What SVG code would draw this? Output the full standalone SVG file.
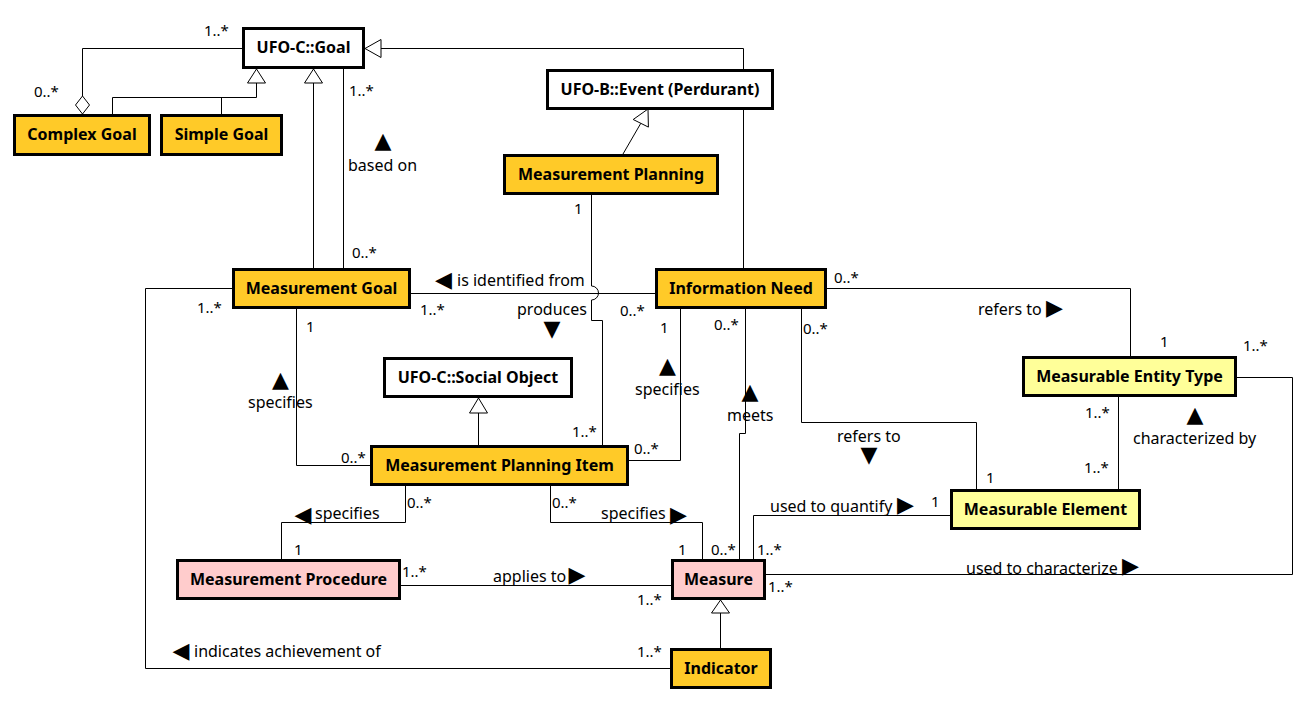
<svg xmlns="http://www.w3.org/2000/svg" width="1306" height="716" viewBox="0 0 1306 716">
<style>
.ln{fill:none;stroke:#000;stroke-width:1}
.hol{fill:#fff;stroke:#000;stroke-width:1}
.nd{stroke:#000;stroke-width:3}
.w{fill:#fff}
.g{fill:#FFCA28}
.p{fill:#FFCCCC}
.y{fill:#FFFF99}
.nt{font-family:"Noto Sans","Open Sans",sans-serif;font-weight:bold;font-size:16px;fill:#000;text-anchor:middle}
.lb{font-family:"Noto Sans","Open Sans",sans-serif;font-size:16px;fill:#000}
.m{font-family:"Noto Sans","Open Sans",sans-serif;font-size:15px;fill:#000}
.tr{font-family:"DejaVu Sans",sans-serif;font-size:22px;fill:#000;text-anchor:middle}
</style>
<rect width="1306" height="716" fill="#fff"/>
<g id="connectors">
<path class="ln" d="M242,48.5 H82.5 V96"/>
<polygon class="hol" points="82.5,96 89.5,105 82.5,114 75.5,105"/>
<path class="ln" d="M112.5,114 V97.5 H256.5 V83 M221.5,114 V97.5"/>
<polygon class="hol" points="256.5,69 265.5,83 247.5,83"/>
<path class="ln" d="M313.5,268 V83"/>
<polygon class="hol" points="313.5,69 322.5,83 304.5,83"/>
<path class="ln" d="M743.5,268 V48.5 H381"/>
<polygon class="hol" points="365,48.5 381,39.5 381,57.5"/>
<path class="ln" d="M343.5,69 V268"/>
<path class="ln" d="M623,154 L640.8,123.3"/>
<polygon class="hol" points="648,109 648.4,127.1 633.2,119.5"/>
<path class="ln" d="M591.5,195 V286 A7,7 0 0,1 591.5,300 V320.5 H602.5 V445"/>
<path class="ln" d="M411,293.5 H655"/>
<path class="ln" d="M296.5,309 V465.5 H370"/>
<path class="ln" d="M680.5,309 V460.5 H629"/>
<path class="ln" d="M478.5,445 V413"/>
<polygon class="hol" points="478.5,398 487.5,413 469.5,413"/>
<path class="ln" d="M745.5,309 V433.5 H739.5 V559"/>
<path class="ln" d="M827,288.5 H1130.5 V356"/>
<path class="ln" d="M801.5,309 V422.5 H976.5 V489"/>
<path class="ln" d="M1118.5,397 V489"/>
<path class="ln" d="M753.5,559 V515.5 H950"/>
<path class="ln" d="M766,574.5 H1292.5 V377.5 H1237"/>
<path class="ln" d="M405.5,486 V522.5 H281.5 V559"/>
<path class="ln" d="M550.5,486 V522.5 H702.5 V559"/>
<path class="ln" d="M401,585.5 H671"/>
<path class="ln" d="M720.5,648 V613"/>
<polygon class="hol" points="720.5,600 729.5,613 711.5,613"/>
<path class="ln" d="M670,668.5 H145.5 V288.5 H232"/>

<text class="m" x="204" y="36">1..*</text>
<text class="m" x="34" y="97">0..*</text>
<text class="m" x="349" y="96">1..*</text>
<text class="tr" x="383" y="148">▲</text>
<text class="lb" x="348" y="171">based on</text>
<text class="m" x="352" y="258">0..*</text>
<text class="m" x="574" y="214">1</text>
<text class="tr" x="443.5" y="287">◀</text>
<text class="lb" x="457" y="286">is identified from</text>
<text class="m" x="197" y="313">1..*</text>
<text class="m" x="420" y="315">1..*</text>
<text class="lb" x="517" y="315">produces</text>
<text class="tr" x="552" y="336">▼</text>
<text class="m" x="620" y="316">0..*</text>
<text class="m" x="306" y="332">1</text>
<text class="m" x="660" y="333">1</text>
<text class="tr" x="280.5" y="387">▲</text>
<text class="lb" x="248" y="408">specifies</text>
<text class="tr" x="667.5" y="373">▲</text>
<text class="lb" x="635" y="395">specifies</text>
<text class="m" x="572" y="437">1..*</text>
<text class="m" x="341" y="463">0..*</text>
<text class="m" x="634" y="454">0..*</text>
<text class="m" x="834" y="283">0..*</text>
<text class="m" x="714" y="330">0..*</text>
<text class="m" x="803" y="334">0..*</text>
<text class="lb" x="978" y="315">refers to</text>
<text class="tr" x="1054.5" y="315">▶</text>
<text class="m" x="1160" y="347">1</text>
<text class="m" x="1243" y="351">1..*</text>
<text class="tr" x="750" y="399">▲</text>
<text class="lb" x="727" y="421">meets</text>
<text class="m" x="1085" y="418">1..*</text>
<text class="tr" x="1195" y="422">▲</text>
<text class="lb" x="1133" y="444">characterized by</text>
<text class="lb" x="837" y="442">refers to</text>
<text class="tr" x="869" y="462">▼</text>
<text class="m" x="986" y="483">1</text>
<text class="m" x="1084" y="473">1..*</text>
<text class="lb" x="770" y="512">used to quantify</text>
<text class="tr" x="905.5" y="512">▶</text>
<text class="m" x="931" y="507">1</text>
<text class="m" x="407" y="508">0..*</text>
<text class="tr" x="303" y="522">◀</text>
<text class="lb" x="315" y="519">specifies</text>
<text class="m" x="552" y="508">0..*</text>
<text class="lb" x="601" y="519">specifies</text>
<text class="tr" x="678.5" y="522">▶</text>
<text class="m" x="294" y="555">1</text>
<text class="m" x="678" y="555">1</text>
<text class="m" x="711" y="555">0..*</text>
<text class="m" x="757" y="555">1..*</text>
<text class="m" x="402" y="577">1..*</text>
<text class="lb" x="493" y="582">applies to</text>
<text class="tr" x="577" y="582">▶</text>
<text class="m" x="637" y="605">1..*</text>
<text class="m" x="768" y="592">1..*</text>
<text class="lb" x="966" y="574">used to characterize</text>
<text class="tr" x="1130.5" y="573">▶</text>
<text class="tr" x="181" y="658">◀</text>
<text class="lb" x="194" y="657">indicates achievement of</text>
<text class="m" x="637" y="657">1..*</text>
</g>

<g id="node-goal"><rect class="nd w" x="243.5" y="28.5" width="120" height="39"/><text class="nt" x="303.5" y="53">UFO-C::Goal</text></g>
<g id="node-complex-goal"><rect class="nd g" x="14.5" y="115.5" width="135" height="39"/><text class="nt" x="82" y="140">Complex Goal</text></g>
<g id="node-simple-goal"><rect class="nd g" x="161.5" y="115.5" width="120" height="39"/><text class="nt" x="221.5" y="140">Simple Goal</text></g>
<g id="node-event"><rect class="nd w" x="547.5" y="70.5" width="225" height="38"/><text class="nt" x="660" y="94.5">UFO-B::Event (Perdurant)</text></g>
<g id="node-measurement-planning"><rect class="nd g" x="504.5" y="155.5" width="213" height="38"/><text class="nt" x="611" y="179.5">Measurement Planning</text></g>
<g id="node-measurement-goal"><rect class="nd g" x="233.5" y="269.5" width="176" height="38"/><text class="nt" x="321.5" y="293.5">Measurement Goal</text></g>
<g id="node-information-need"><rect class="nd g" x="656.5" y="269.5" width="169" height="38"/><text class="nt" x="741" y="293.5">Information Need</text></g>
<g id="node-social-object"><rect class="nd w" x="384.5" y="358.5" width="187" height="38"/><text class="nt" x="478" y="382.5">UFO-C::Social Object</text></g>
<g id="node-mpi"><rect class="nd g" x="371.5" y="446.5" width="256" height="38"/><text class="nt" x="499.5" y="470.5">Measurement Planning Item</text></g>
<g id="node-met"><rect class="nd y" x="1023.5" y="357.5" width="212" height="38"/><text class="nt" x="1129.5" y="381.5">Measurable Entity Type</text></g>
<g id="node-me"><rect class="nd y" x="951.5" y="490.5" width="188" height="38"/><text class="nt" x="1045.5" y="514.5">Measurable Element</text></g>
<g id="node-procedure"><rect class="nd p" x="177.5" y="560.5" width="222" height="38"/><text class="nt" x="288.5" y="584.5">Measurement Procedure</text></g>
<g id="node-measure"><rect class="nd p" x="672.5" y="560.5" width="92" height="38"/><text class="nt" x="718.5" y="584.5">Measure</text></g>
<g id="node-indicator"><rect class="nd g" x="671.5" y="649.5" width="99" height="38"/><text class="nt" x="721" y="673.5">Indicator</text></g>
</svg>
